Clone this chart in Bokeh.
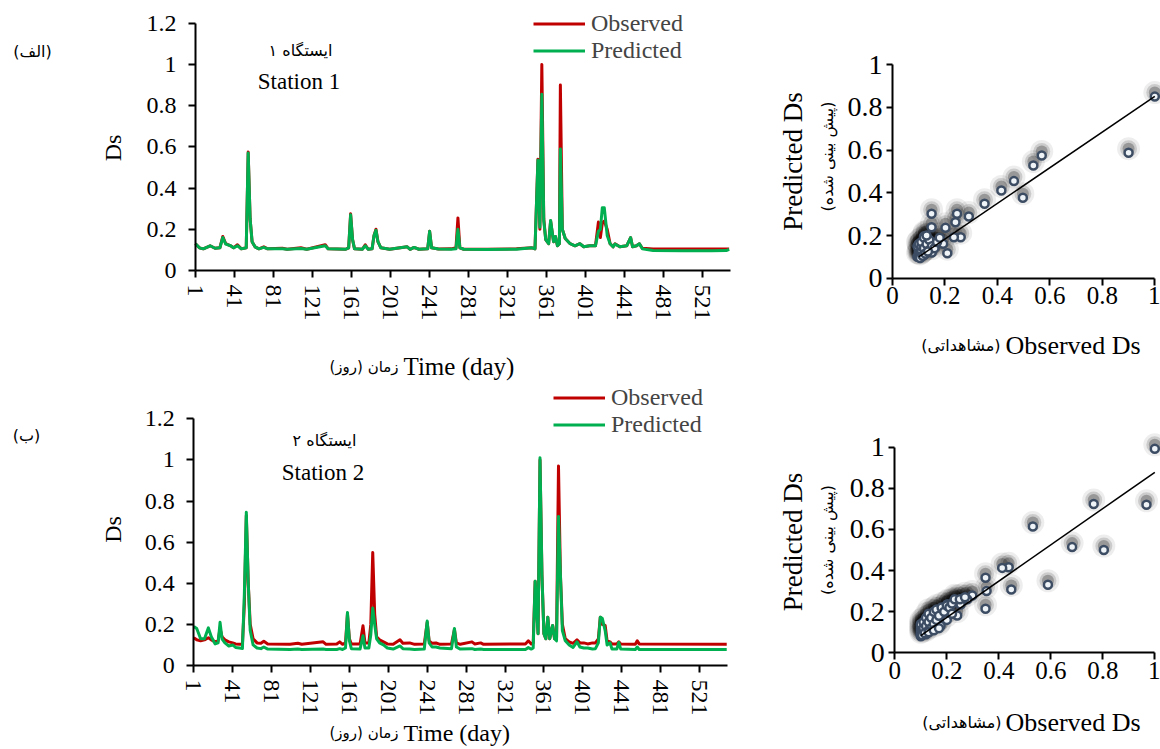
from math import pi
from bokeh.plotting import figure
from bokeh.models import Range1d, FixedTicker, Label, Legend, LegendItem
from bokeh.layouts import row, column
from bokeh.embed import file_html
from bokeh.resources import INLINE

SERIF = "Liberation Serif"
FA = "DejaVu Sans"
RED = "#c00000"
GREEN = "#00b050"

# ---------------- data ----------------
day_ticks = [1, 41, 81, 121, 161, 201, 241, 281, 321, 361, 401, 441, 481, 521]
day_tick_labels = [str(d) for d in day_ticks]
ts_y_ticks = [0, 0.2, 0.4, 0.6, 0.8, 1.0, 1.2]
ts_y_labels = ["0", "0.2", "0.4", "0.6", "0.8", "1", "1.2"]
sc_ticks = [0, 0.2, 0.4, 0.6, 0.8, 1.0]
sc_labels = ["0", "0.2", "0.4", "0.6", "0.8", "1"]

# Station 1 time series
s1_days = [1, 5, 9, 16, 21, 26, 29, 32, 37, 40, 44, 48, 53, 55, 57, 59, 62, 66, 71, 75,
           90, 95, 109, 115, 134, 137, 155, 158, 160, 162, 164, 172, 175, 178, 182, 184,
           186, 188, 191, 200, 218, 221, 225, 230, 239, 241, 243, 250, 263, 268, 270, 272,
           276, 300, 330, 346, 349, 352, 354, 356, 358, 360, 363, 365, 368, 370, 372, 374,
           375, 377, 380, 385, 390, 395, 399, 405, 411, 414, 416, 418, 420, 423, 426, 429,
           431, 436, 443, 447, 449, 453, 456, 459, 470, 500, 530, 545, 548]
s1_obs = [0.13, 0.11, 0.105, 0.12, 0.108, 0.11, 0.165, 0.13, 0.12, 0.11, 0.125, 0.105, 0.11, 0.575, 0.25, 0.14, 0.115, 0.105, 0.115, 0.105,
          0.108, 0.103, 0.11, 0.103, 0.125, 0.105, 0.103, 0.11, 0.275, 0.15, 0.105, 0.103, 0.125, 0.103, 0.105, 0.17,
          0.2, 0.14, 0.11, 0.103, 0.115, 0.103, 0.112, 0.103, 0.105, 0.19, 0.11, 0.104, 0.105, 0.11, 0.255, 0.11,
          0.103, 0.103, 0.105, 0.11, 0.105, 0.54, 0.2, 1.0, 0.25, 0.15, 0.13, 0.24, 0.14, 0.165, 0.12, 0.13,
          0.9, 0.2, 0.155, 0.13, 0.12, 0.13, 0.115, 0.12, 0.12, 0.235, 0.16, 0.23, 0.24, 0.2, 0.13, 0.115,
          0.13, 0.115, 0.12, 0.16, 0.115, 0.12, 0.13, 0.108, 0.104, 0.104, 0.104, 0.104, 0.104]
s1_pred = [0.13, 0.11, 0.105, 0.12, 0.108, 0.11, 0.16, 0.128, 0.12, 0.11, 0.12, 0.105, 0.11, 0.57, 0.25, 0.14, 0.115, 0.105, 0.112, 0.105,
           0.105, 0.103, 0.107, 0.103, 0.12, 0.105, 0.103, 0.11, 0.27, 0.15, 0.105, 0.103, 0.12, 0.103, 0.105, 0.17,
           0.195, 0.14, 0.11, 0.103, 0.115, 0.103, 0.112, 0.103, 0.105, 0.19, 0.11, 0.104, 0.103, 0.105, 0.2, 0.11,
           0.103, 0.102, 0.103, 0.11, 0.105, 0.535, 0.21, 0.855, 0.24, 0.15, 0.13, 0.243, 0.14, 0.165, 0.12, 0.13,
           0.59, 0.2, 0.155, 0.13, 0.12, 0.13, 0.115, 0.12, 0.12, 0.19, 0.2, 0.305, 0.305, 0.17, 0.13, 0.115,
           0.128, 0.115, 0.12, 0.16, 0.115, 0.12, 0.13, 0.105, 0.097, 0.096, 0.096, 0.097, 0.103]

# Station 2 time series
s2_days = [1, 4, 8, 12, 16, 19, 23, 26, 28, 30, 33, 37, 41, 44, 48, 51, 53, 55, 57, 59,
           62, 66, 70, 73, 77, 100, 108, 112, 134, 137, 148, 151, 154, 157, 159, 161, 163, 172,
           175, 177, 181, 183, 185, 187, 189, 192, 196, 200, 206, 213, 216, 223, 228, 238, 241,
           243, 246, 250, 254, 266, 269, 271, 275, 287, 290, 296, 299, 342, 345, 348, 350, 352,
           355, 357, 359, 361, 363, 365, 367, 370, 372, 374, 376, 378, 380, 383, 387, 391, 395,
           398, 402, 406, 411, 414, 417, 419, 421, 424, 426, 429, 431, 436, 438, 440, 455, 457,
           459, 549]
s2_obs = [0.135, 0.125, 0.12, 0.125, 0.135, 0.125, 0.115, 0.12, 0.18, 0.14, 0.125, 0.115, 0.11, 0.105, 0.103, 0.103, 0.3, 0.73, 0.4, 0.2,
          0.13, 0.11, 0.108, 0.118, 0.105, 0.103, 0.108, 0.103, 0.115, 0.103, 0.105, 0.115, 0.103, 0.11, 0.25, 0.13, 0.105, 0.105,
          0.193, 0.11, 0.11, 0.2, 0.55, 0.25, 0.14, 0.125, 0.115, 0.105, 0.103, 0.125, 0.108, 0.11, 0.103, 0.105, 0.21,
          0.12, 0.108, 0.11, 0.103, 0.105, 0.175, 0.11, 0.103, 0.115, 0.105, 0.11, 0.103, 0.105, 0.12, 0.105, 0.11, 0.41,
          0.155, 1.0, 0.44, 0.155, 0.13, 0.235, 0.13, 0.195, 0.13, 0.13, 0.97, 0.44, 0.2, 0.13, 0.115, 0.108, 0.125,
          0.11, 0.11, 0.105, 0.11, 0.11, 0.13, 0.235, 0.2, 0.195, 0.12, 0.115, 0.105, 0.105, 0.115, 0.105, 0.103, 0.12,
          0.105, 0.103]
s2_pred = [0.19, 0.18, 0.13, 0.13, 0.183, 0.14, 0.105, 0.11, 0.21, 0.13, 0.11, 0.095, 0.1, 0.088, 0.085, 0.083, 0.35, 0.745, 0.4, 0.17,
           0.1, 0.085, 0.082, 0.09, 0.08, 0.078, 0.08, 0.078, 0.08, 0.078, 0.078, 0.082, 0.078, 0.085, 0.258, 0.12, 0.082, 0.08,
           0.145, 0.085, 0.085, 0.15, 0.28, 0.2, 0.13, 0.11, 0.1, 0.085, 0.08, 0.095, 0.082, 0.08, 0.078, 0.08, 0.216,
           0.11, 0.09, 0.09, 0.085, 0.082, 0.18, 0.09, 0.08, 0.082, 0.078, 0.08, 0.078, 0.078, 0.087, 0.08, 0.085, 0.41,
           0.155, 1.01, 0.44, 0.155, 0.13, 0.235, 0.13, 0.195, 0.13, 0.12, 0.725, 0.44, 0.17, 0.12, 0.1, 0.088, 0.115,
           0.09, 0.085, 0.085, 0.08, 0.082, 0.11, 0.235, 0.23, 0.17, 0.1, 0.11, 0.08, 0.08, 0.112, 0.08, 0.078, 0.09,
           0.078, 0.078]

# Station 1 scatter (observed vs predicted)
sc1_obs = [1.0, 0.9, 0.569, 0.537, 0.497, 0.463, 0.415, 0.351, 0.291, 0.246, 0.149, 0.149, 0.202, 0.24,
           0.26, 0.234, 0.209, 0.193, 0.158, 0.12,
           0.095, 0.10, 0.10, 0.10, 0.10, 0.10, 0.095, 0.10, 0.105, 0.11, 0.11, 0.11, 0.11, 0.12, 0.12,
           0.12, 0.13, 0.13, 0.14, 0.14, 0.15, 0.15, 0.16, 0.17, 0.18, 0.13, 0.105, 0.115, 0.125, 0.135]
sc1_pred = [0.851, 0.588, 0.575, 0.528, 0.377, 0.455, 0.411, 0.349, 0.289, 0.302, 0.302, 0.239, 0.236, 0.262,
            0.192, 0.192, 0.117, 0.161, 0.161, 0.196,
            0.10, 0.10, 0.11, 0.12, 0.13, 0.14, 0.15, 0.16, 0.12, 0.10, 0.13, 0.15, 0.17, 0.11, 0.14,
            0.19, 0.12, 0.16, 0.13, 0.18, 0.15, 0.12, 0.14, 0.17, 0.19, 0.20, 0.095, 0.105, 0.115, 0.125]
fit1_x = [0.1, 1.0]
fit1_y = [0.1, 0.852]

# Station 2 scatter
sc2_obs = [1.0, 0.968, 0.765, 0.804, 0.682, 0.589, 0.531, 0.448, 0.438, 0.413, 0.349, 0.353, 0.349, 0.298,
           0.24, 0.234, 0.202, 0.151, 0.176, 0.253, 0.279,
           0.10, 0.10, 0.10, 0.10, 0.10, 0.10, 0.10, 0.11, 0.11, 0.11, 0.12, 0.12, 0.12, 0.13, 0.13, 0.13,
           0.14, 0.14, 0.15, 0.15, 0.16, 0.16, 0.17, 0.18, 0.19, 0.20, 0.21, 0.22, 0.23, 0.25, 0.27,
           0.105, 0.115, 0.13, 0.15, 0.17, 0.20, 0.22]
sc2_pred = [0.992, 0.72, 0.724, 0.5, 0.514, 0.331, 0.614, 0.308, 0.416, 0.413, 0.365, 0.3, 0.214, 0.279,
            0.181, 0.254, 0.236, 0.188, 0.131, 0.235, 0.26,
            0.08, 0.09, 0.10, 0.11, 0.12, 0.13, 0.14, 0.10, 0.12, 0.15, 0.09, 0.13, 0.17, 0.11, 0.15, 0.19,
            0.12, 0.17, 0.14, 0.20, 0.16, 0.21, 0.18, 0.22, 0.20, 0.23, 0.22, 0.24, 0.26, 0.26, 0.27,
            0.085, 0.095, 0.10, 0.11, 0.12, 0.16, 0.19]
fit2_x = [0.1, 1.0]
fit2_y = [0.084, 0.878]


# ---------------- helpers ----------------
class Geom:
    """Maps figure-local pixel positions to data, given where two data values sit."""
    def __init__(self, w, h, x0, x1, px0, px1, y0, y1, py0, py1):
        self.w, self.h = w, h
        self.sx = (px1 - px0) / (x1 - x0)
        self.sy = (py0 - py1) / (y1 - y0)
        self.x0, self.px0, self.y0, self.py0 = x0, px0, y0, py0

    def dx(self, px):
        return self.x0 + (px - self.px0) / self.sx

    def dy(self, py):
        return self.y0 + (self.py0 - py) / self.sy

    def ranges(self):
        return (Range1d(self.dx(0), self.dx(self.w)), Range1d(self.dy(self.h), self.dy(0)))


def make_fig(g):
    xr, yr = g.ranges()
    p = figure(width=g.w, height=g.h, x_range=xr, y_range=yr,
               output_backend="svg", toolbar_location=None,
               min_border=0, min_border_left=0, min_border_right=0,
               min_border_top=0, min_border_bottom=0)
    p.xgrid.visible = False
    p.ygrid.visible = False
    p.outline_line_color = None
    p.background_fill_color = "white"
    p.border_fill_color = "white"
    return p


def style_axis(ax, tick_size, tick_out, standoff):
    ax.axis_line_color = "black"
    ax.axis_line_width = 2
    ax.major_tick_line_color = "black"
    ax.major_tick_line_width = 2
    ax.major_tick_in = 0
    ax.major_tick_out = tick_out
    ax.minor_tick_line_color = None
    ax.major_label_text_font = SERIF
    ax.major_label_text_font_size = tick_size
    ax.major_label_text_color = "black"
    ax.major_label_standoff = standoff


def add_label(p, g, px, py, text, font, size, align="center", angle=0.0):
    p.add_layout(Label(x=g.dx(px), y=g.dy(py), text=text, text_font=font,
                       text_font_size=size, text_align=align, text_baseline="middle",
                       angle=angle, text_color="black"))


def ts_fig(g, days, obs, pred, legend_px, item_h):
    p = make_fig(g)
    r_obs = p.line(days, obs, line_color=RED, line_width=3, line_join="round")
    r_pred = p.line(days, pred, line_color=GREEN, line_width=3, line_join="round")
    xa, ya = p.xaxis[0], p.yaxis[0]
    style_axis(xa, "24px", 7, 7)
    style_axis(ya, "24px", 7, 12)
    xa.fixed_location = 0
    xa.bounds = (day_ticks[0], 549.5)
    ya.fixed_location = day_ticks[0]
    ya.bounds = (ts_y_ticks[0], ts_y_ticks[-1])
    xa.ticker = FixedTicker(ticks=day_ticks)
    xa.major_label_overrides = {t: l for t, l in zip(day_ticks, day_tick_labels)}
    xa.major_label_orientation = "vertical"
    ya.ticker = FixedTicker(ticks=ts_y_ticks)
    ya.major_label_overrides = {t: l for t, l in zip(ts_y_ticks, ts_y_labels)}
    lx, ltop = legend_px
    legend = Legend(items=[LegendItem(label="Observed", renderers=[r_obs]),
                           LegendItem(label="Predicted", renderers=[r_pred])],
                    location=(lx, g.h - (ltop + 2 * item_h)),
                    glyph_width=52, glyph_height=item_h,
                    label_height=item_h, label_standoff=6, spacing=0, padding=0, margin=0,
                    border_line_color=None, background_fill_alpha=0,
                    label_text_font=SERIF, label_text_font_size="24px")
    p.add_layout(legend)
    return p


def sc_fig(g, obs, pred, fx, fy):
    p = make_fig(g)
    dy = 4.0 / g.sy
    hy = [v + dy for v in pred]
    p.scatter(obs, hy, size=23, fill_color="black", fill_alpha=0.07, line_color=None)
    p.scatter(obs, hy, size=17, fill_color="black", fill_alpha=0.14, line_color=None)
    p.scatter(obs, hy, size=12, fill_color="black", fill_alpha=0.25, line_color=None)
    p.scatter(obs, pred, size=8, fill_color="#eef3f8", line_color="#3c4c63", line_width=2.5)
    p.line(fx, fy, line_color="black", line_width=1.5)
    xa, ya = p.xaxis[0], p.yaxis[0]
    style_axis(xa, "25px", 7, 2)
    style_axis(ya, "28px", 6, 4)
    xa.fixed_location = 0
    ya.fixed_location = 0
    xa.bounds = (sc_ticks[0], sc_ticks[-1])
    ya.bounds = (sc_ticks[0], sc_ticks[-1])
    xa.ticker = FixedTicker(ticks=sc_ticks)
    xa.major_label_overrides = {t: l for t, l in zip(sc_ticks, sc_labels)}
    ya.ticker = FixedTicker(ticks=sc_ticks)
    ya.major_label_overrides = {t: l for t, l in zip(sc_ticks, sc_labels)}
    return p


# ---------------- panels ----------------
H1, H2 = 385, 364   # row heights (top row, bottom row)

g1 = Geom(760, H1, 1, 521, 195.0, 702.3, 0, 1.2, 270.0, 22.7)
p1 = ts_fig(g1, s1_days, s1_obs, s1_pred, (533, 9.5), 27)
add_label(p1, g1, 112, 147.5, "Ds", SERIF, "24px", angle=pi / 2)
add_label(p1, g1, 300, 50, "ایستگاه ۱", FA, "16px")
add_label(p1, g1, 298.5, 80.5, "Station 1", SERIF, "23px")
add_label(p1, g1, 398, 366, "زمان (روز)", FA, "15px", align="right")
add_label(p1, g1, 403, 366, "Time (day)", SERIF, "25px", align="left")
add_label(p1, g1, 32, 51, "(الف)", FA, "16px")

g2 = Geom(400, H1, 0, 1, 132.0, 394.3, 0, 1, 277.7, 64.3)
p2 = sc_fig(g2, sc1_obs, sc1_pred, fit1_x, fit1_y)
add_label(p2, g2, 32, 161, "Predicted Ds", SERIF, "27px", angle=pi / 2)
add_label(p2, g2, 67, 156, "(پیش بینی شده)", FA, "16px", angle=pi / 2)
add_label(p2, g2, 240, 345, "(مشاهداتی)", FA, "16px", align="right")
add_label(p2, g2, 245, 345, "Observed Ds", SERIF, "26px", align="left")

g3 = Geom(760, H2, 1, 521, 193.3, 699.0, 0, 1.2, 280.0, 33.3)
p3 = ts_fig(g3, s2_days, s2_obs, s2_pred, (553, 2.5), 25)
add_label(p3, g3, 112, 144, "Ds", SERIF, "24px", angle=pi / 2)
add_label(p3, g3, 324, 55, "ایستگاه ۲", FA, "16px")
add_label(p3, g3, 322.5, 86.5, "Station 2", SERIF, "23px")
add_label(p3, g3, 398, 347, "زمان (روز)", FA, "15px", align="right")
add_label(p3, g3, 403, 347, "Time (day)", SERIF, "24px", align="left")
add_label(p3, g3, 26, 50, "(ب)", FA, "16px")

g4 = Geom(400, H2, 0, 1, 134.3, 394.3, 0, 1, 267.3, 61.7)
p4 = sc_fig(g4, sc2_obs, sc2_pred, fit2_x, fit2_y)
add_label(p4, g4, 32, 156.5, "Predicted Ds", SERIF, "27px", angle=pi / 2)
add_label(p4, g4, 67, 154.5, "(پیش بینی شده)", FA, "16px", angle=pi / 2)
add_label(p4, g4, 241, 336.7, "(مشاهداتی)", FA, "16px", align="right")
add_label(p4, g4, 245, 336.7, "Observed Ds", SERIF, "26px", align="left")

layout = column(row(p1, p2), row(p3, p4))
open("out.html", "w").write(file_html(layout, INLINE))
